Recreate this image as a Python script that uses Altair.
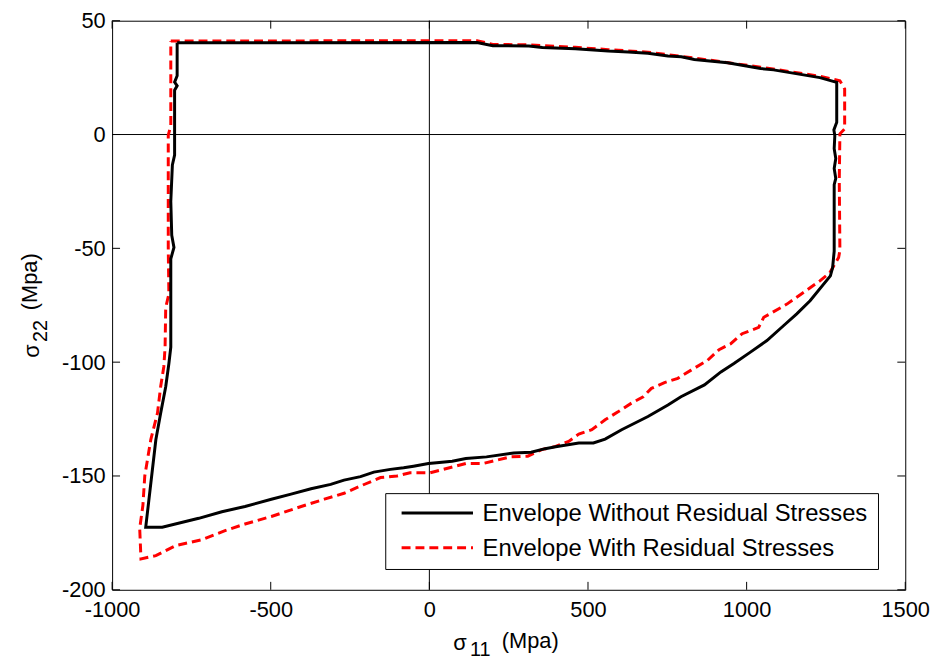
import altair as alt
import pandas as pd

# ---------------- data ----------------
x_ticks = [-1000, -500, 0, 500, 1000, 1500]
y_ticks = [-200, -150, -100, -50, 0, 50]
series_names = ["Envelope Without Residual Stresses", "Envelope With Residual Stresses"]
x_title_parts = ["σ", "11", "(Mpa)"]
y_title_parts = ["σ", "22", "(Mpa)"]

# Envelope without residual stresses (closed path, in drawing order)
wo_x = [-795, 150, 200, 314, 356, 460, 564, 627, 689, 752, 794, 835, 940, 1044, 1085, 1231, 1284,
        1284, 1275, 1278, 1276, 1281, 1276, 1281, 1276, 1276, 1271, 1264,
        1200, 1158, 1117, 1064, 1012, 960, 919, 867, 793, 752, 689, 606, 554, 517, 471, 398, 365,
        321, 266, 180, 115, 72, 23, -3, -50, -81, -123, -175, -217, -269, -311, -373, -436, -498,
        -581, -654, -727, -842, -894,
        -862, -847, -831, -821, -815, -815, -805, -812, -815, -810, -803, -803, -795, -803, -795, -795]
wo_y = [40.3, 40.4, 39, 38.9, 38.2, 37.7, 36.7, 36.3, 35.7, 34.5, 34.2, 33, 31.5, 29, 28.4, 25, 22.9,
        5.4, 2, -0.5, -6.2, -10.5, -14.9, -19.3, -22, -51.2, -58.5, -62.1,
        -73, -78.8, -83.9, -90.5, -95.6, -100.6, -104.3, -110, -115.2, -118.8, -123.9, -129.7, -133.8,
        -135.5, -135.5, -137.2, -138, -139.6, -139.9, -141.6, -142.3, -143.5, -144.2, -144.5, -145.7,
        -146.4, -147.1, -148.3, -150.3, -151.8, -153.7, -155.6, -158, -160.2, -163.4, -165.7, -168.6,
        -172.5, -172.5,
        -134, -122.4, -110.8, -100.6, -93.4, -54.6, -49.6, -44.3, -29.4, -13.4, -9, 19.5, 21.4, 23, 25.8, 40.3]

# Envelope with residual stresses (closed path, in drawing order)
w_x = [-815, 150, 200, 314, 460, 564, 689, 835, 1044, 1231, 1294, 1309,
       1309, 1294, 1292, 1294, 1290, 1262, 1231, 1179, 1127, 1054, 1038, 986, 950, 913, 877, 825,
       783, 741, 700, 674, 637, 596, 554, 512, 471, 439, 398, 354, 310, 256, 169, 115, 2, -61, -102,
       -154, -217, -269, -331, -404, -498, -581, -644, -717, -800, -862, -909,
       -913, -903, -897, -878, -857, -847, -837, -833, -831, -821, -823, -823, -815, -815]
w_y = [41.1, 41.2, 39.6, 39.4, 38.3, 37.3, 36.2, 33.6, 29.6, 25.6, 23.6, 20,
       2.5, 0.3, -20, -51, -54, -60.7, -64.3, -69.4, -74.5, -80.3, -84.7, -87.5, -91.9, -94.5, -99.2,
       -103.5, -107.1, -109, -111.5, -115.2, -118, -121.7, -125.3, -129.7, -131.6, -134.8, -137,
       -138.4, -141.3, -141.6, -144.5, -144.5, -148.6, -148.6, -150, -150.7, -154.4, -157.6, -160.2,
       -163.4, -167.8, -171.1, -174, -178, -180.6, -185, -186.4,
       -173, -163, -150, -134, -122.4, -110.8, -102, -93.4, -76, -70, -50, -0.3, 4, 41.1]

# ---------------- chart ----------------
W, H = 800, 574
FONT = "Liberation Sans"

df_wo = pd.DataFrame({"s11": wo_x, "s22": wo_y, "idx": list(range(len(wo_x)))})
df_w = pd.DataFrame({"s11": w_x, "s22": w_y, "idx": list(range(len(w_x)))})

xscale = alt.Scale(domain=[-1000, 1500], nice=False, zero=False)
yscale = alt.Scale(domain=[-200, 50], nice=False, zero=False)

xaxis = alt.Axis(values=x_ticks, title=None, labelFlush=False, grid=False, ticks=False,
                 domain=False, labelFontSize=22, labelPadding=10, labelExpr="'' + datum.value")
yaxis = alt.Axis(values=y_ticks, title=None, grid=False, ticks=False, domain=False,
                 labelFontSize=22, labelPadding=7, labelExpr="'' + datum.value")

one = pd.DataFrame({"a": [0]})

zero_v = alt.Chart(pd.DataFrame({"v": [0]})).mark_rule(color="black", strokeWidth=1).encode(
    x=alt.X("v:Q", scale=xscale, axis=xaxis))
zero_h = alt.Chart(pd.DataFrame({"v": [0]})).mark_rule(color="black", strokeWidth=1).encode(
    y=alt.Y("v:Q", scale=yscale, axis=yaxis))

red = alt.Chart(df_w).mark_line(color="#ff0000", strokeWidth=3, strokeDash=[9, 5]).encode(
    x=alt.X("s11:Q", scale=xscale, axis=xaxis),
    y=alt.Y("s22:Q", scale=yscale, axis=yaxis),
    order=alt.Order("idx:Q"))
black = alt.Chart(df_wo).mark_line(color="#000000", strokeWidth=3).encode(
    x=alt.X("s11:Q", scale=xscale, axis=xaxis),
    y=alt.Y("s22:Q", scale=yscale, axis=yaxis),
    order=alt.Order("idx:Q"))

xt = pd.DataFrame({"t": x_ticks})
yt = pd.DataFrame({"t": y_ticks})
tick_b = alt.Chart(xt).mark_rule(color="black", strokeWidth=1).encode(
    x=alt.X("t:Q", scale=xscale, axis=xaxis), y=alt.value(H), y2=alt.value(H - 8))
tick_t = alt.Chart(xt).mark_rule(color="black", strokeWidth=1).encode(
    x=alt.X("t:Q", scale=xscale, axis=xaxis), y=alt.value(0), y2=alt.value(8))
tick_l = alt.Chart(yt).mark_rule(color="black", strokeWidth=1).encode(
    y=alt.Y("t:Q", scale=yscale, axis=yaxis), x=alt.value(0), x2=alt.value(8))
tick_r = alt.Chart(yt).mark_rule(color="black", strokeWidth=1).encode(
    y=alt.Y("t:Q", scale=yscale, axis=yaxis), x=alt.value(W), x2=alt.value(W - 8))

# legend (drawn as a boxed key, lower right)
leg_box = alt.Chart(one).mark_rect(fill="white", stroke="black", strokeWidth=1).encode(
    x=alt.value(276), x2=alt.value(773), y=alt.value(477), y2=alt.value(553.5))
leg_l1 = alt.Chart(one).mark_rule(color="#000000", strokeWidth=3).encode(
    x=alt.value(292), x2=alt.value(364), y=alt.value(496.5))
leg_l2 = alt.Chart(one).mark_rule(color="#ff0000", strokeWidth=3, strokeDash=[9, 5]).encode(
    x=alt.value(292), x2=alt.value(364), y=alt.value(531.5))
leg_t1 = alt.Chart(one).mark_text(text=series_names[0], align="left", baseline="alphabetic",
                                  font=FONT, fontSize=24, color="black").encode(
    x=alt.value(373.7), y=alt.value(505))
leg_t2 = alt.Chart(one).mark_text(text=series_names[1], align="left", baseline="alphabetic",
                                  font=FONT, fontSize=24, color="black").encode(
    x=alt.value(373.7), y=alt.value(540))

# axis titles with subscripts
def tx(text, x, y, size, angle=0):
    kw = dict(text=text, align="left", baseline="alphabetic", font=FONT, fontSize=size, color="black")
    if angle:
        kw["angle"] = angle
    return alt.Chart(one).mark_text(**kw).encode(x=alt.value(x), y=alt.value(y))

xt1 = tx(x_title_parts[0], 344, 635, 22)
xt2 = tx(x_title_parts[1], 361, 641, 20)
xt3 = tx(x_title_parts[2], 393, 633, 22)
yt1 = tx(y_title_parts[0], -74, 340, 22, 270)
yt2 = tx(y_title_parts[1], -66, 324, 20, 270)
yt3 = tx(y_title_parts[2], -76, 292, 22, 270)

chart = alt.layer(
    zero_v, zero_h, red, black, tick_b, tick_t, tick_l, tick_r,
    leg_box, leg_l1, leg_l2, leg_t1, leg_t2,
    xt1, xt2, xt3, yt1, yt2, yt3,
).properties(
    width=W, height=H,
    autosize=alt.AutoSizeParams(type="none"),
    padding={"left": 105, "top": 10, "right": 30, "bottom": 69},
).configure_view(
    stroke="black", strokeWidth=1
).configure_axis(
    labelFont=FONT, labelColor="black"
)

chart.save("out.html", embed_options={"renderer": "svg", "actions": False})
